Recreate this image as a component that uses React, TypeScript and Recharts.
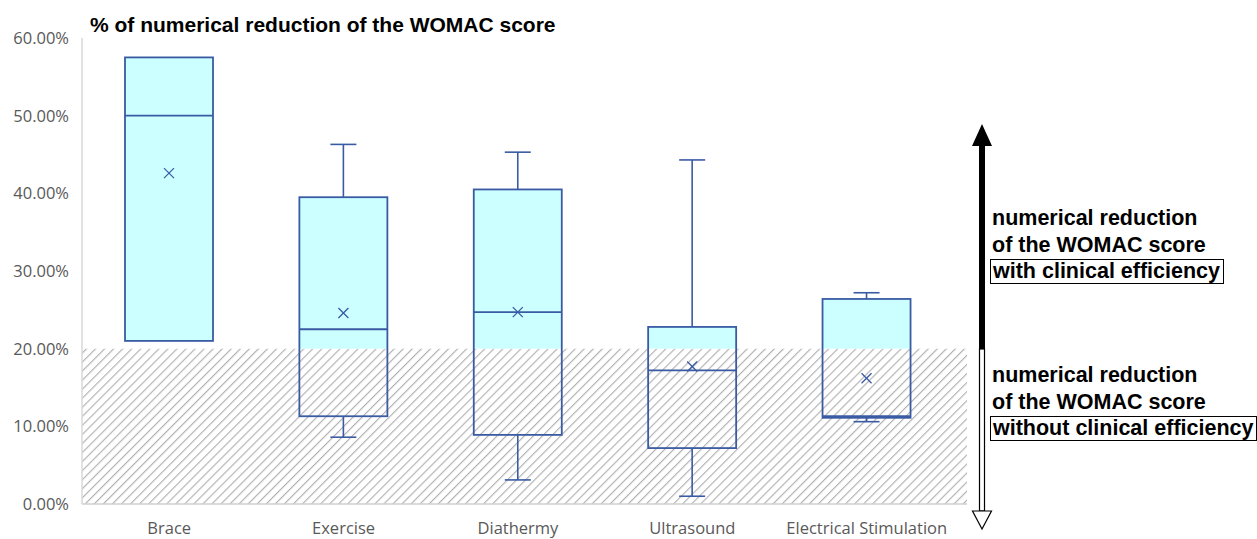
import { ComposedChart, Bar, XAxis, YAxis, ReferenceArea } from 'recharts';

const categories = ['Brace', 'Exercise', 'Diathermy', 'Ultrasound', 'Electrical Stimulation'];
const minValues = [21.0, 8.6, 3.1, 1.0, 10.6];
const q1Values = [21.0, 11.3, 8.9, 7.2, 11.1];
const medianValues = [50.0, 22.5, 24.7, 17.2, 11.3];
const q3Values = [57.5, 39.5, 40.5, 22.8, 26.4];
const maxValues = [57.5, 46.3, 45.3, 44.3, 27.2];
const meanValues = [42.6, 24.6, 24.7, 17.7, 16.2];
const yTicks = [0, 10, 20, 30, 40, 50, 60];
const efficiencyThreshold = 20;

const BOX_STROKE = '#3A5BA3';
const BOX_FILL = '#CCFFFF';
const TICK_FONT = '"Open Sans", sans-serif';
const LABEL_FONT = '"Liberation Sans", Arial, sans-serif';

// categories sit at 0..4; the plot runs a little past the last band on the right
const xDomain = [-0.5, 4.575];

const chartData = categories.map((name, i) => ({
  idx: i,
  name,
  min: minValues[i],
  q1: q1Values[i],
  median: medianValues[i],
  q3: q3Values[i],
  max: maxValues[i],
  mean: meanValues[i],
  range: [minValues[i], maxValues[i]],
}));

// draws one whole box (whiskers, box, median, mean) inside the min..max bar rect
function BoxShape(props: any) {
  const { x, y, width, height, payload } = props;
  const top = Math.min(y, y + height);
  const bottom = Math.max(y, y + height);
  const lo = payload.min;
  const hi = payload.max;
  const py = (v: number) => top + ((bottom - top) * (hi - v)) / (hi - lo);
  const cx = x + width / 2;
  const cap = 13;

  const fillFrom = Math.max(payload.q1, efficiencyThreshold);
  const showFill = payload.q3 > fillFrom;
  const mY = py(payload.mean);

  return (
    <g>
      {showFill && (
        <rect x={x} y={py(payload.q3)} width={width} height={py(fillFrom) - py(payload.q3)} fill={BOX_FILL} />
      )}
      {payload.max > payload.q3 && (
        <g stroke={BOX_STROKE} strokeWidth={1.6}>
          <line x1={cx} x2={cx} y1={py(payload.q3)} y2={py(payload.max)} />
          <line x1={cx - cap} x2={cx + cap} y1={py(payload.max)} y2={py(payload.max)} />
        </g>
      )}
      {payload.min < payload.q1 && (
        <g stroke={BOX_STROKE} strokeWidth={1.6}>
          <line x1={cx} x2={cx} y1={py(payload.q1)} y2={py(payload.min)} />
          <line x1={cx - cap} x2={cx + cap} y1={py(payload.min)} y2={py(payload.min)} />
        </g>
      )}
      <rect
        x={x}
        y={py(payload.q3)}
        width={width}
        height={py(payload.q1) - py(payload.q3)}
        fill="none"
        stroke={BOX_STROKE}
        strokeWidth={1.8}
      />
      <line x1={x} x2={x + width} y1={py(payload.median)} y2={py(payload.median)} stroke={BOX_STROKE} strokeWidth={1.8} />
      <g stroke={BOX_STROKE} strokeWidth={1.3}>
        <line x1={cx - 5} x2={cx + 5} y1={mY - 5} y2={mY + 5} />
        <line x1={cx - 5} x2={cx + 5} y1={mY + 5} y2={mY - 5} />
      </g>
    </g>
  );
}

function SideNotes() {
  const textStyle: React.CSSProperties = {
    position: 'absolute',
    left: 990,
    fontFamily: LABEL_FONT,
    fontWeight: 'bold',
    fontSize: 21.5,
    lineHeight: '26.5px',
    color: '#000',
    whiteSpace: 'nowrap',
  };
  const boxed: React.CSSProperties = {
    border: '1.5px solid #000',
    padding: '0 3px 0 2px',
    display: 'inline-block',
    lineHeight: '23px',
  };
  return (
    <>
      <svg width={1257} height={539} style={{ position: 'absolute', left: 0, top: 0, pointerEvents: 'none' }}>
        <polygon points="982,124 972,146 992,146" fill="#000" />
        <rect x={979} y={145} width={6} height={204} fill="#000" />
        <rect x={979.5} y={349} width={5} height={162} fill="#fff" stroke="#000" strokeWidth={1.2} />
        <polygon points="972.5,511 991.5,511 982,529" fill="#fff" stroke="#000" strokeWidth={1.2} />
      </svg>
      <div style={{ ...textStyle, top: 205 }}>
        <div style={{ paddingLeft: 2 }}>numerical reduction</div>
        <div style={{ paddingLeft: 2 }}>of the WOMAC score</div>
        <span style={boxed}>with clinical efficiency</span>
      </div>
      <div style={{ ...textStyle, top: 362 }}>
        <div style={{ paddingLeft: 2 }}>numerical reduction</div>
        <div style={{ paddingLeft: 2 }}>of the WOMAC score</div>
        <span style={boxed}>without clinical efficiency</span>
      </div>
    </>
  );
}

export default function App() {
  return (
    <div style={{ position: 'absolute', left: 0, top: 0, width: 1257, height: 539, background: '#fff', overflow: 'hidden' }}>
      <ComposedChart
        width={1257}
        height={539}
        data={chartData}
        margin={{ top: 38, right: 290, bottom: 6, left: 0 }}
      >
        <defs>
          <pattern id="hatch" patternUnits="userSpaceOnUse" width={6.4} height={6.4} patternTransform="rotate(45)">
            <line x1={0.6} y1={0} x2={0.6} y2={6.4} stroke="#ADADAD" strokeWidth={1.1} />
          </pattern>
        </defs>
        <ReferenceArea y1={0} y2={efficiencyThreshold} fill="url(#hatch)" fillOpacity={1} stroke="none" />
        <XAxis
          dataKey="idx"
          type="number"
          domain={xDomain}
          ticks={[0, 1, 2, 3, 4]}
          tickFormatter={(i: number) => categories[i] ?? ''}
          height={29}
          axisLine={{ stroke: '#CFCFCF', strokeWidth: 1.5 }}
          tickLine={false}
          tickSize={6}
          tickMargin={12}
          tick={{ fill: '#595959', fontSize: 16.5, fontFamily: TICK_FONT }}
          interval={0}
        />
        <YAxis
          width={82}
          domain={[0, 60]}
          ticks={yTicks}
          interval={0}
          axisLine={{ stroke: '#D9D9D9', strokeWidth: 1.5 }}
          tickLine={false}
          tickSize={0}
          tickMargin={13}
          tickFormatter={(v: number) => `${v.toFixed(2)}%`}
          tick={{ fill: '#595959', fontSize: 16.5, fontFamily: TICK_FONT }}
        />
        <Bar dataKey="range" barSize={88} shape={BoxShape} isAnimationActive={false} />
      </ComposedChart>
      <div
        style={{
          position: 'absolute',
          left: 90,
          top: 13,
          fontFamily: LABEL_FONT,
          fontWeight: 'bold',
          fontSize: 21,
          color: '#000',
          whiteSpace: 'nowrap',
        }}
      >
        % of numerical reduction of the WOMAC score
      </div>
      <SideNotes />
    </div>
  );
}
